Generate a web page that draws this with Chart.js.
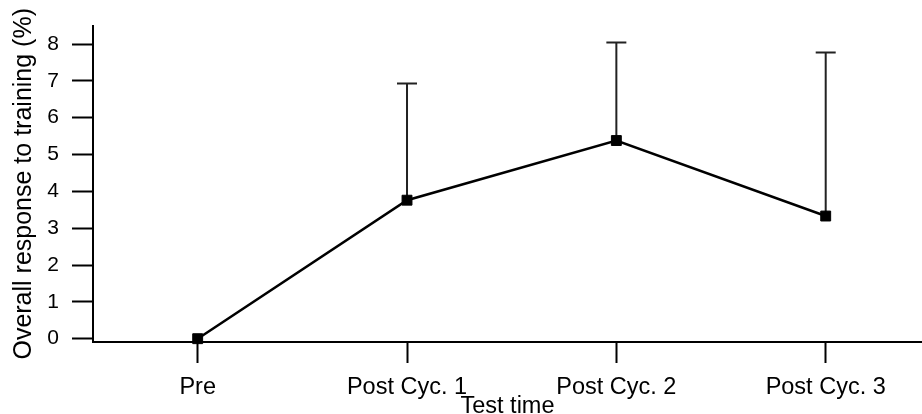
<!DOCTYPE html>
<html>
<head>
<meta charset="utf-8">
<script src="https://cdn.jsdelivr.net/npm/chart.js@4/dist/chart.umd.min.js"></script>
<style>
  html, body { margin:0; padding:0; background:#fff; overflow:hidden; }
  #wrap { width:922px; height:414px; overflow:hidden; }
  canvas { display:block; }
</style>
</head>
<body>
<div id="wrap"><canvas id="c" width="922" height="440"></canvas></div>
<script>
// data
const testTimes = ["Pre", "Post Cyc. 1", "Post Cyc. 2", "Post Cyc. 3"];
const response = [0, 3.76, 5.38, 3.33];
const responseSD = [0, 3.17, 2.66, 4.44];
const yTicks = [0, 1, 2, 3, 4, 5, 6, 7, 8];

const FONT = "'Liberation Sans', Arial, sans-serif";

// upward-only error bars with a cap
const errorBars = {
  id: "errorBars",
  beforeDatasetsDraw(chart){
    const ctx = chart.ctx, xs = chart.scales.x, ys = chart.scales.y;
    ctx.save();
    ctx.strokeStyle = "#222";
    ctx.lineWidth = 2;
    response.forEach((v, i) => {
      if (!responseSD[i]) return;
      const x = xs.getPixelForValue(i);
      const y0 = ys.getPixelForValue(v);
      const y1 = ys.getPixelForValue(v + responseSD[i]);
      ctx.beginPath();
      ctx.moveTo(x, y0); ctx.lineTo(x, y1);
      ctx.moveTo(x - 10, y1); ctx.lineTo(x + 10, y1);
      ctx.stroke();
    });
    ctx.restore();
  }
};

new Chart(document.getElementById("c").getContext("2d"), {
  type: "line",
  data: {
    datasets: [{
      data: response.map((v, i) => ({ x: i, y: v })),
      borderColor: "#000",
      borderWidth: 2.5,
      pointStyle: "rect",
      pointRadius: 7,
      pointBorderWidth: 1,
      pointBackgroundColor: "#000",
      pointBorderColor: "#000",
      tension: 0,
      clip: false
    }]
  },
  options: {
    responsive: false,
    devicePixelRatio: 1,
    animation: false,
    layout: { autoPadding: false, padding: { top: 22, right: 0, bottom: 0, left: 0 } },
    plugins: { legend: { display: false }, tooltip: { enabled: false } },
    scales: {
      x: {
        type: "linear",
        min: -0.5,
        max: 3.46,
        afterFit(s){ s.height = 98; },
        ticks: {
          stepSize: 1,
          includeBounds: false,
          autoSkip: false,
          maxRotation: 0,
          padding: 10,
          color: "#000",
          font: { family: FONT, size: 23.5 },
          callback: v => testTimes[v] || ""
        },
        grid: { drawOnChartArea: false, drawTicks: true, tickLength: 21, tickWidth: 2, tickColor: "#000" },
        border: { display: true, color: "#000", width: 2 },
        title: {
          display: true,
          text: "Test time",
          color: "#000",
          font: { family: FONT, size: 23.5 },
          padding: { top: 0, bottom: 19 }
        }
      },
      y: {
        min: -0.09,
        max: 8.5,
        afterFit(s){ s.width = 93; },
        afterBuildTicks(s){ s.ticks = yTicks.map(v => ({ value: v })); },
        ticks: {
          padding: 13,
          color: "#000",
          font: { family: FONT, size: 21 }
        },
        grid: { drawOnChartArea: false, drawTicks: true, tickLength: 21, tickWidth: 2, tickColor: "#000" },
        border: { display: true, color: "#000", width: 2 },
        title: {
          display: true,
          text: "Overall response to training (%)",
          color: "#000",
          font: { family: FONT, size: 25 },
          padding: { top: 9, bottom: 0 }
        }
      }
    }
  },
  plugins: [errorBars]
});
</script>
</body>
</html>
